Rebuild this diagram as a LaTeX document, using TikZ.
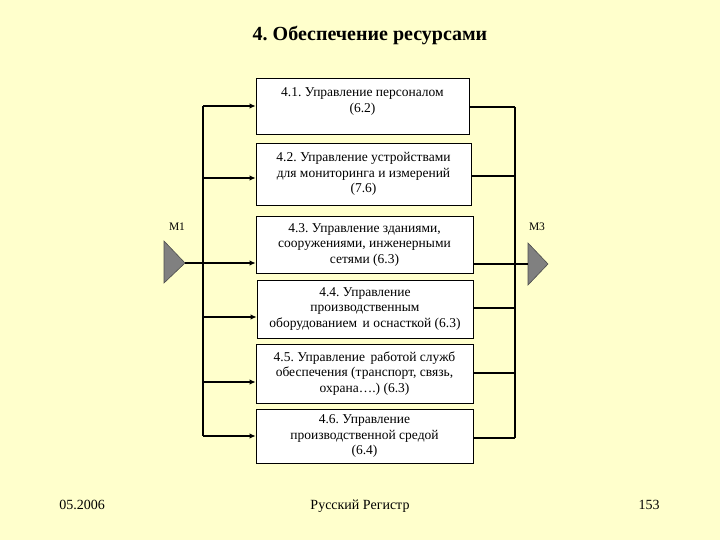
\documentclass[tikz,border=0pt]{standalone}
\usepackage{fontspec}
\setmainfont{Liberation Serif}
\usetikzlibrary{arrows.meta}
\definecolor{slide}{HTML}{FFFFCC}
\definecolor{wedge}{HTML}{808080}
\frenchspacing

\begin{document}
\begin{tikzpicture}[x=1pt, y=-1pt, >={Latex[length=6pt, width=5.5pt]},
    box/.style={draw, line width=0.8pt, fill=white, align=center, inner sep=2pt,
      font=\fontsize{13.5}{15.5}\selectfont},
    bus/.style={line width=1.8pt},
    tri/.style={fill=wedge, draw=wedge!60!black, line width=0.6pt},
    tag/.style={font=\fontsize{11.5}{13}\selectfont},
    foot/.style={font=\fontsize{14}{16}\selectfont, anchor=base}]

  \fill[slide] (0,0) rectangle (720,540);
  \useasboundingbox (0,0) rectangle (720,540);

  \node[font=\bfseries\fontsize{20}{24}\selectfont] (title) at (370,36) {4. Обеспечение ресурсами};

  % boxes
  \node[box, minimum width=213pt, minimum height=56pt] (b1) at (362.5,106)
    {4.1. Управление персоналом\\(6.2)\\[-4pt]\mbox{}};
  \node[box, minimum width=215pt, minimum height=62pt] (b2) at (363.5,174)
    {4.2. Управление устройствами\\для мониторинга и измерений\\(7.6)};
  \node[box, minimum width=217pt, minimum height=57pt] (b3) at (364.5,244.5)
    {4.3. Управление зданиями,\\сооружениями, инженерными\\сетями (6.3)};
  \node[box, minimum width=216pt, minimum height=58pt] (b4) at (365,309)
    {4.4. Управление\\производственным\\оборудованием\, и оснасткой (6.3)};
  \node[box, minimum width=217pt, minimum height=59pt] (b5) at (364.5,373.5)
    {4.5. Управление\, работой служб\\обеспечения (транспорт, связь,\\охрана….) (6.3)};
  \node[box, minimum width=217pt, minimum height=54pt] (b6) at (364.5,436)
    {4.6. Управление\\производственной средой\\(6.4)};

  % inputs and outputs
  \coordinate (m1) at (185,263);
  \coordinate (m3) at (528,264);
  \filldraw[tri] (164,241) -- (m1) -- (164,283) -- cycle;
  \filldraw[tri] (m3 |- 0,243) -- (548,264) -- (m3 |- 0,285) -- cycle;
  \node[tag] (t1) at (177,227) {M1};
  \node[tag] (t3) at (537,227) {M3};

  \foreach \i/\y in {1/106,2/178,3/263,4/317,5/382,6/436}
    \coordinate (l\i) at (203,\y);
  \foreach \i/\y in {1/107,2/176,3/263,4/308,5/373,6/438}
    \coordinate (r\i) at (515,\y);

  \draw[bus] (l1) -- (l6);
  \draw[bus] (r1) -- (r6);
  \foreach \i in {1,2,4,5,6}
    \draw[bus, ->] (l\i) -- (l\i -| b\i.west);
  \draw[bus, ->] (m1) -- (m1 -| b3.west);
  \foreach \i in {1,2,4,5,6}
    \draw[bus] (r\i -| b\i.east) -- (r\i);
  \draw[bus] (m3 -| b3.east) -- (m3);

  % footer
  \node[foot] (date) at (82,509) {05.2006};
  \node[foot] (org) at (360,509) {Русский Регистр};
  \node[foot] (page) at (649,509) {153};
\end{tikzpicture}
\end{document}
